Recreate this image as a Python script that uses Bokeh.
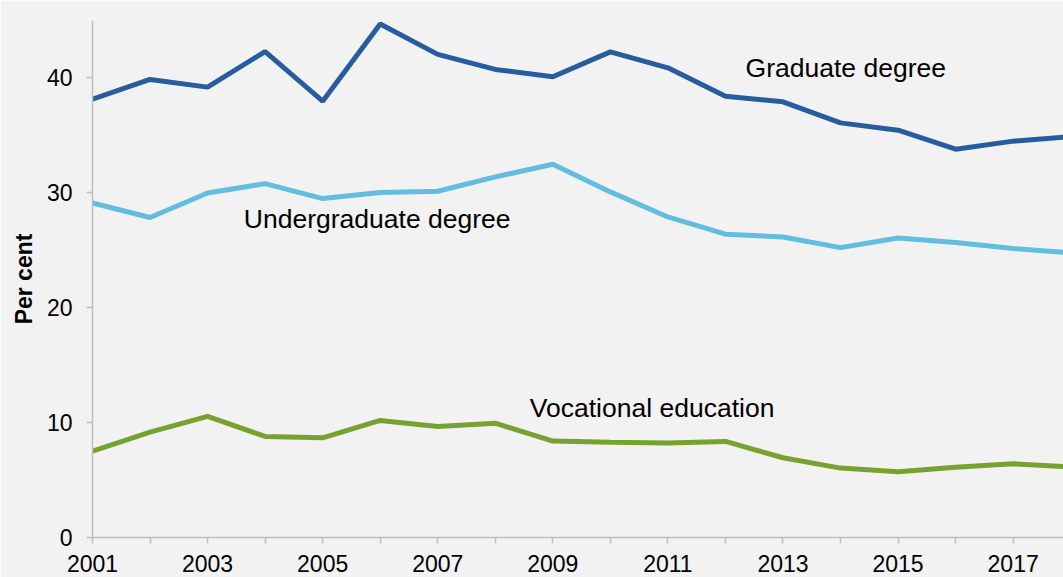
from bokeh.plotting import figure
from bokeh.models import FixedTicker, Label, Range1d
from bokeh.embed import file_html
from bokeh.resources import INLINE

years = list(range(2001, 2019))
graduate = [38.15, 39.87, 39.2, 42.3, 37.98, 44.7, 42.05, 40.74, 40.1, 42.27,
            40.88, 38.41, 37.92, 36.09, 35.45, 33.8, 34.5, 34.9]
undergraduate = [29.12, 27.85, 29.99, 30.8, 29.5, 30.02, 30.14, 31.39, 32.49, 30.08,
                 27.9, 26.4, 26.15, 25.23, 26.07, 25.67, 25.15, 24.78]
vocational = [7.52, 9.17, 10.54, 8.8, 8.68, 10.19, 9.67, 9.95, 8.39, 8.28,
              8.22, 8.36, 6.94, 6.04, 5.72, 6.12, 6.42, 6.15]

series_names = ["Graduate degree", "Undergraduate degree", "Vocational education"]
x_major = list(range(2001, 2019, 2))
x_minor = list(range(2002, 2019, 2))
y_ticks = [0, 10, 20, 30, 40]

FONT = "Liberation Sans"
BG = "#f2f2f2"
AX = "#bfbfbf"

p = figure(width=1063, height=577, output_backend="svg", toolbar_location=None,
           x_range=Range1d(2001, 2017.875), y_range=Range1d(0, 45),
           min_border_left=92, min_border_right=0, min_border_top=20, min_border_bottom=40)
p.background_fill_color = BG
p.border_fill_color = BG
p.outline_line_color = None
p.xgrid.visible = False
p.ygrid.visible = False

p.line(years, graduate, line_color="#275d9e", line_width=5)
p.line(years, undergraduate, line_color="#63bddf", line_width=5)
p.line(years, vocational, line_color="#77a22f", line_width=5)

for ax in (p.xaxis[0], p.yaxis[0]):
    ax.axis_line_color = AX
    ax.axis_line_width = 1.5
    ax.major_tick_line_color = AX
    ax.minor_tick_line_color = AX
    ax.major_tick_line_width = 1.5
    ax.minor_tick_line_width = 1.5
    ax.major_tick_in = 0
    ax.major_tick_out = 6
    ax.minor_tick_in = 0
    ax.minor_tick_out = 6
    ax.major_label_text_font = FONT
    ax.major_label_text_font_size = "23px"
    ax.major_label_text_color = "#000000"

p.xaxis[0].ticker = FixedTicker(ticks=x_major, minor_ticks=x_minor)
p.xaxis[0].major_label_standoff = 11
p.yaxis[0].ticker = FixedTicker(ticks=y_ticks, minor_ticks=[])
p.yaxis[0].major_label_standoff = 14
p.yaxis[0].axis_label = "Per cent"
p.yaxis[0].axis_label_text_font = FONT
p.yaxis[0].axis_label_text_font_style = "bold"
p.yaxis[0].axis_label_text_font_size = "23px"
p.yaxis[0].axis_label_text_color = "#000000"
p.yaxis[0].axis_label_standoff = 7

label_pos = [(2012.35, 40.9), (2003.63, 27.7), (2008.6, 11.27)]
for name, (lx, ly) in zip(series_names, label_pos):
    p.add_layout(Label(x=lx, y=ly, text=name, text_font=FONT, text_font_size="26.5px",
                       text_color="#000000", text_baseline="alphabetic", text_align="left"))

open("out.html", "w").write(file_html(p, INLINE))
